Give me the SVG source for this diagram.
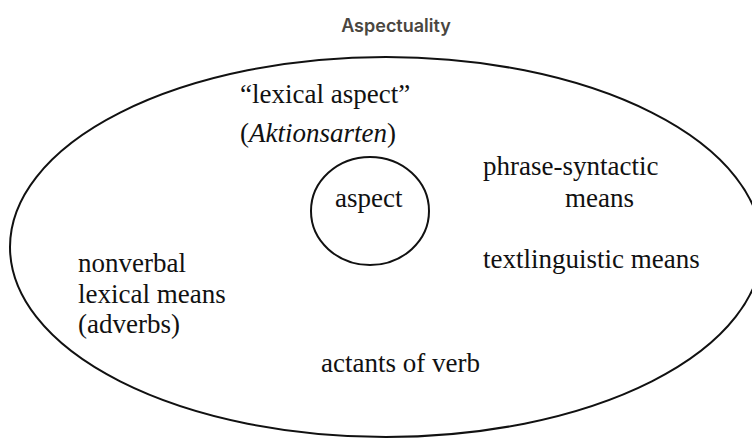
<svg xmlns="http://www.w3.org/2000/svg" width="752" height="438" viewBox="0 0 752 438">
<style>
text.t{font-family:Liberation Serif,serif;font-size:27px;fill:#111}
text.title{font-family:Inter,Liberation Sans,sans-serif;font-size:18px;font-weight:600;fill:#4a463f}
.shape{fill:none;stroke:#111;stroke-width:2}
</style>
<rect width="752" height="438" fill="#fff"/>
<text class="title" x="396" y="32" text-anchor="middle">Aspectuality</text>
<g id="aspectuality">
<ellipse class="shape" cx="386" cy="247" rx="376" ry="190"/>
</g>
<g id="lexical-aspect">
<text class="t" x="240" y="103" font-family="Liberation Serif">“lexical aspect”</text>
<text class="t" x="240" y="142" font-family="Liberation Serif">(<tspan font-style="italic">Aktionsarten</tspan>)</text>
</g>
<g id="aspect">
<ellipse class="shape" cx="370" cy="211" rx="59" ry="54"/>
<text class="t" x="335" y="207" font-family="Liberation Serif">aspect</text>
</g>
<g id="phrase-syntactic">
<text class="t" x="483" y="175" font-family="Liberation Serif">phrase-syntactic</text>
<text class="t" x="565" y="207" font-family="Liberation Serif">means</text>
</g>
<g id="textlinguistic">
<text class="t" x="483" y="268" font-family="Liberation Serif">textlinguistic means</text>
</g>
<g id="nonverbal">
<text class="t" x="78" y="272" font-family="Liberation Serif">nonverbal</text>
<text class="t" x="78" y="303" font-family="Liberation Serif">lexical means</text>
<text class="t" x="78" y="333" font-family="Liberation Serif">(adverbs)</text>
</g>
<g id="actants">
<text class="t" x="321" y="372" font-family="Liberation Serif">actants of verb</text>
</g>
<g id="connectors"/>
</svg>
